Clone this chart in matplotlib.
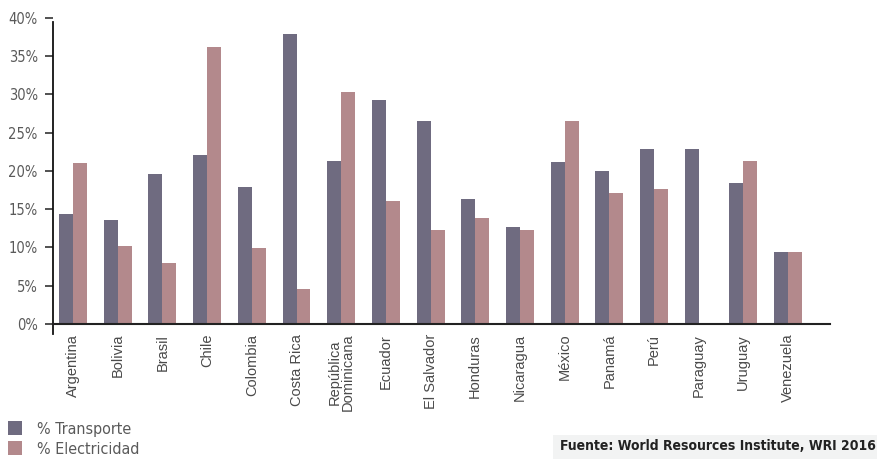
import numpy as np
import matplotlib
matplotlib.use('Agg')
import matplotlib.pyplot as plt
from matplotlib.patches import Rectangle

paises = ['Argentina', 'Bolivia', 'Brasil', 'Chile', 'Colombia', 'Costa Rica',
          'República\nDominicana', 'Ecuador', 'El Salvador', 'Honduras',
          'Nicaragua', 'México', 'Panamá', 'Perú', 'Paraguay', 'Uruguay',
          'Venezuela']
transporte = [14.3, 13.6, 19.6, 22.0, 17.9, 37.9, 21.3, 29.2, 26.5, 16.3,
              12.7, 21.1, 20.0, 22.8, 22.8, 18.4, 9.4]
electricidad = [21.0, 10.2, 8.0, 36.2, 9.9, 4.6, 30.3, 16.1, 12.3, 13.8,
                12.3, 26.5, 17.1, 17.6, 0.0, 21.3, 9.4]
yticks = [0, 5, 10, 15, 20, 25, 30, 35, 40]

c_trans = '#6f6b80'
c_elec = '#b3898c'

W, H = 877, 459
fig = plt.figure(figsize=(W / 100, H / 100), dpi=100)
ax = fig.add_axes([53 / W, (H - 334) / H, 777 / W, 316.4 / H])

x = np.arange(len(paises))
w = 0.313
b1 = ax.bar(x - w / 2, transporte, w, color=c_trans, label='% Transporte')
b2 = ax.bar(x + w / 2, electricidad, w, color=c_elec, label='% Electricidad')

ax.set_xlim(-0.45, len(paises) - 1 + 0.94)
ax.set_ylim(-1.3, 40)

for s in ['top', 'right']:
    ax.spines[s].set_visible(False)
ax.spines['bottom'].set_position(('data', 0))
ax.spines['bottom'].set_color('#222222')
ax.spines['bottom'].set_linewidth(1.5)
ax.spines['left'].set_color('#111111')
ax.spines['left'].set_linewidth(1.3)
ax.spines['left'].set_bounds(-1.3, 39.4)

ax.set_yticks(yticks)
ax.set_yticklabels([f'{v}%' for v in yticks], family='DejaVu Sans',
                   stretch='condensed', fontsize=10.5, color='#5a5a5a')
ax.tick_params(axis='y', length=6, width=1.2, color='#333333', pad=5)

ax.set_xticks(x)
ax.set_xticklabels(paises, rotation=90, fontsize=10.5, color='#4a4a4a',
                   family=['Liberation Sans', 'DejaVu Sans'],
                   va='top', ha='center', linespacing=0.95)
ax.tick_params(axis='x', length=0, pad=7)

fig.legend(handles=[b1, b2], labels=['% Transporte', '% Electricidad'],
           loc='lower left', bbox_to_anchor=(0.0, -0.012), frameon=False,
           prop={'family': 'DejaVu Sans', 'stretch': 'condensed', 'size': 11.5},
           labelcolor='#5a5a5a',
           handlelength=0.9, handleheight=0.9, handletextpad=0.9,
           labelspacing=0.3, borderaxespad=0.3, borderpad=0.2)

fig.patches.append(Rectangle((553 / W, 0), 1 - 553 / W, 24 / H,
                             transform=fig.transFigure, facecolor='#f2f3f3',
                             edgecolor='none', zorder=0))
fig.text(560 / W, 9 / H, 'Fuente: World Resources Institute, WRI 2016',
         family='DejaVu Sans', stretch='condensed', fontsize=10,
         weight='bold', color='#222222', ha='left', va='baseline')

fig.savefig('out.png', dpi=100)
